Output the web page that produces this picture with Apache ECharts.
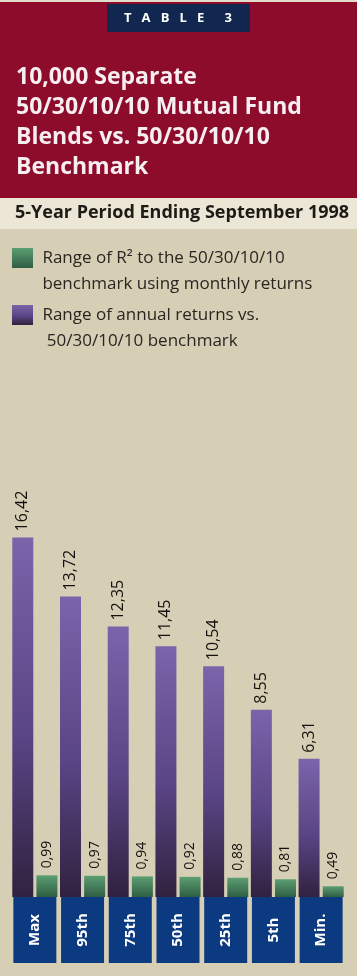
<!DOCTYPE html>
<html>
<head>
<meta charset="utf-8">
<script src="https://cdn.jsdelivr.net/npm/echarts@6/dist/echarts.min.js"></script>
<style>
html,body{margin:0;padding:0;background:#d6cfb6;}
#chart{width:357px;height:976px;}
</style>
</head>
<body>
<div id="chart"></div>
<script>
var categories = ['Max', '95th', '75th', '50th', '25th', '5th', 'Min.'];
var annualReturns = [16.42, 13.72, 12.35, 11.45, 10.54, 8.55, 6.31];
var rSquared = [0.99, 0.97, 0.94, 0.92, 0.88, 0.81, 0.49];
var seriesNames = [
  'Range of annual returns vs.\n 50/30/10/10 benchmark',
  'Range of R\u00B2 to the 50/30/10/10\nbenchmark using monthly returns'
];
var tableLabel = 'T   A   B   L   E      3';
var titleText = '10,000 Separate\n50/30/10/10 Mutual Fund\nBlends vs. 50/30/10/10\nBenchmark';
var subtitleText = '5-Year Period Ending September 1998';

function fmt(v){ return v.toFixed(2).replace('.', ','); }

var chart = echarts.init(document.getElementById('chart'), null, {renderer:'canvas'});
var FONT = '"Open Sans", "Noto Sans", sans-serif';

chart.setOption({
  backgroundColor: '#d6cfb6',
  animation: false,
  graphic: [
    {type:'rect', shape:{x:0, y:0, width:357, height:2}, style:{fill:'#e2dccb'}, z:0},
    {type:'rect', shape:{x:0, y:2, width:357, height:196}, style:{fill:'#8d0c2b'}, z:0},
    {type:'rect', shape:{x:107, y:4, width:143, height:28}, style:{fill:'#12274f'}, z:1},
    {type:'rect', shape:{x:0, y:198, width:357, height:31}, style:{fill:'#ebe6d6'}, z:0}
  ],
  title: [
    {text: tableLabel, left: 178, top: 11, textAlign:'center',
     textStyle:{color:'#ffffff', fontSize:13, fontWeight:'bold', lineHeight:14, fontFamily:FONT}, padding:0},
    {text: titleText, left: 16, top: 62,
     textStyle:{color:'#f6eef0', fontSize:23, fontWeight:'bold', lineHeight:30, fontFamily:FONT}, padding:0},
    {text: subtitleText, left: 15, top: 204,
     textStyle:{color:'#1e1a16', fontSize:18, fontWeight:'bold', lineHeight:18, fontFamily:FONT}, padding:0}
  ],
  legend: {
    orient: 'vertical',
    left: 12,
    top: 219,
    padding: 0,
    itemGap: -21,
    itemWidth: 21,
    itemHeight: 20,
    icon: 'rect',
    data: [seriesNames[1], seriesNames[0]],
    formatter: function(name){
      return '\n' + name.split('\n').map(function(l){ return ' ' + l; }).join('\n');
    },
    textStyle: {color:'#2a2520', fontSize:17, lineHeight:26, fontFamily:FONT}
  },
  grid: {left: 11, right: 12, top: 459, bottom: 79},
  xAxis: {
    type: 'category',
    data: categories,
    axisLine: {show:false},
    axisTick: {show:false},
    axisLabel: {
      rotate: 90,
      align: 'center',
      verticalAlign: 'middle',
      margin: 33,
      width: 66,
      lineHeight: 43,
      backgroundColor: '#0c3a80',
      color: '#ffffff',
      fontSize: 15,
      fontWeight: 'bold',
      fontFamily: FONT,
      interval: 0
    }
  },
  yAxis: {type:'value', min:0, max:20, show:false, splitLine:{show:false}},
  series: [
    {
      name: seriesNames[0],
      type: 'bar',
      data: annualReturns,
      barWidth: 21,
      barGap: '15%',
      itemStyle: {
        color: new echarts.graphic.LinearGradient(0,0,0,1,[
          {offset:0, color:'#7b64aa'},
          {offset:0.55, color:'#5a4585'},
          {offset:1, color:'#30223f'}
        ])
      },
      label: {
        show: true, position: 'top', rotate: 90, align: 'left', verticalAlign: 'middle',
        distance: 6, fontSize: 16, color: '#14110e', fontFamily: FONT, fontWeight: 500,
        formatter: function(p){ return fmt(p.value); }
      }
    },
    {
      name: seriesNames[1],
      type: 'bar',
      data: rSquared,
      barWidth: 21,
      itemStyle: {
        color: new echarts.graphic.LinearGradient(0,0,0,1,[
          {offset:0, color:'#5c9e72'},
          {offset:1, color:'#2f5e44'}
        ])
      },
      label: {
        show: true, position: 'top', rotate: 90, align: 'left', verticalAlign: 'middle',
        distance: 7, fontSize: 14, color: '#14110e', fontFamily: FONT, fontWeight: 500,
        formatter: function(p){ return fmt(p.value); }
      }
    }
  ]
});
</script>
</body>
</html>
